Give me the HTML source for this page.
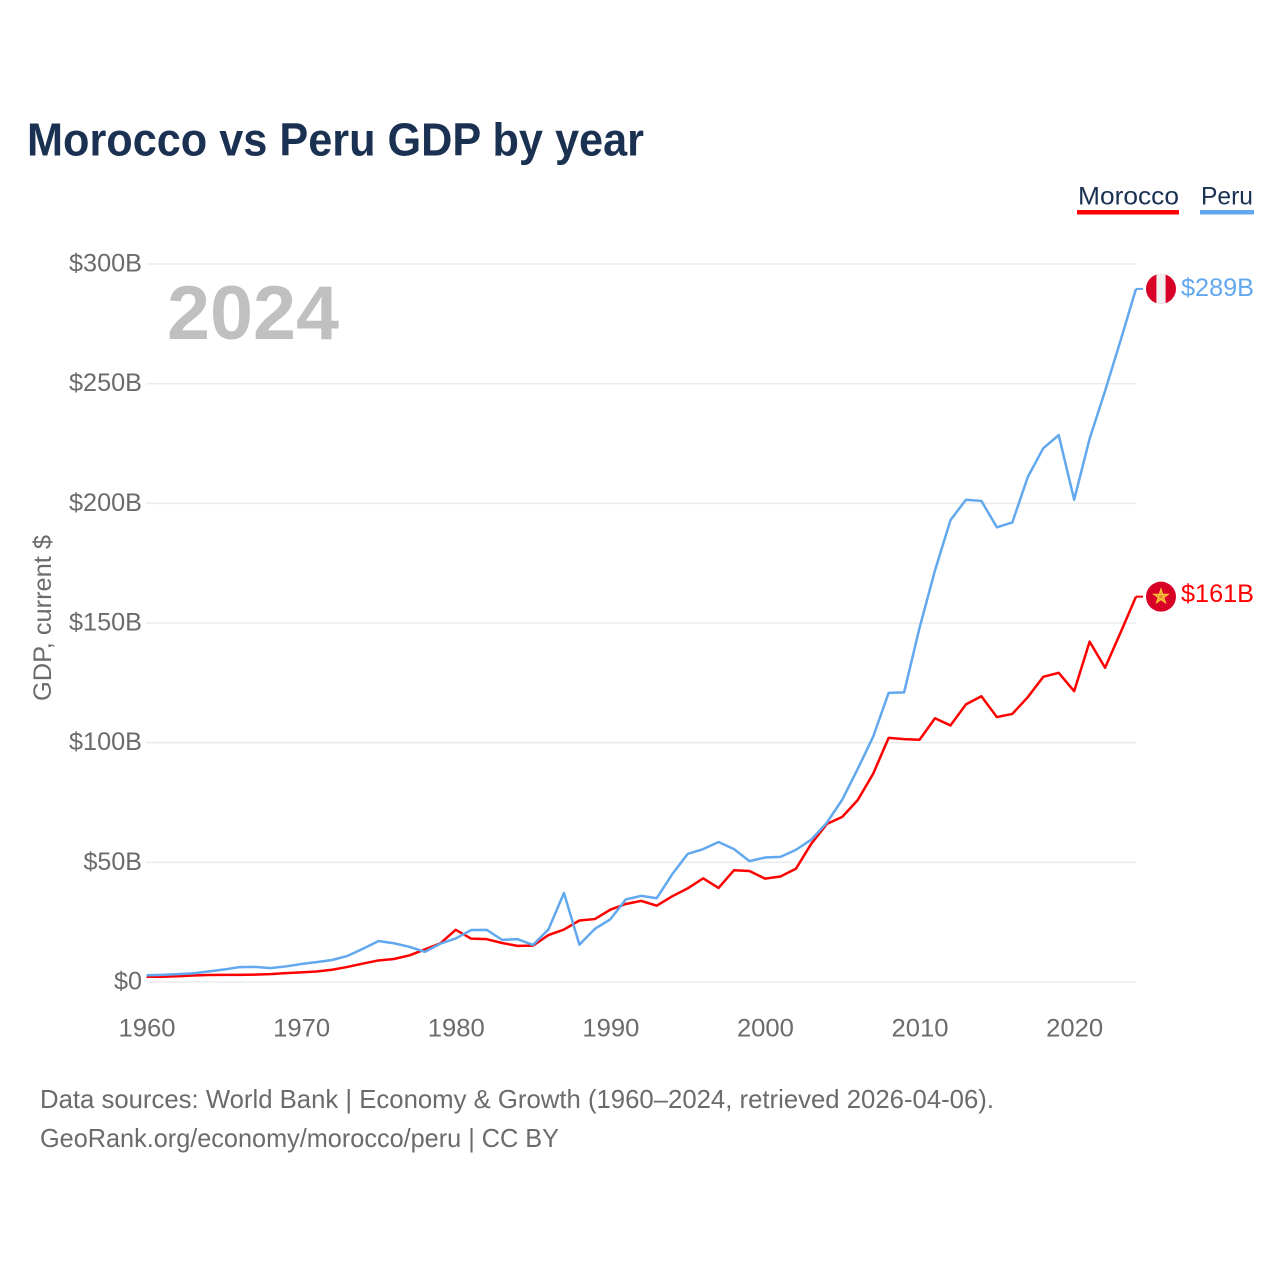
<!DOCTYPE html>
<html lang="en">
<head>
<meta charset="utf-8">
<title>Morocco vs Peru GDP by year</title>
<style>
  html, body { margin: 0; padding: 0; background: #fff; }
  svg { display: block; font-family: "Liberation Sans", sans-serif; }
</style>
</head>
<body>
<svg id="chart" xmlns="http://www.w3.org/2000/svg" width="1280" height="1280" viewBox="0 0 1280 1280">
  <rect x="0" y="0" width="1280" height="1280" fill="#ffffff"/>
  <text x="27" y="155.5" font-size="46" font-weight="bold" fill="#1a3152" textLength="617" lengthAdjust="spacingAndGlyphs">Morocco vs Peru GDP by year</text>

  <g>
    <text x="1078" y="204.5" font-size="25" fill="#1a3152" textLength="101" lengthAdjust="spacingAndGlyphs">Morocco</text>
    <rect x="1077" y="210" width="102" height="4.5" fill="#ff0000"/>
  </g>
  <g>
    <text x="1201" y="204.5" font-size="25" fill="#1a3152" textLength="52" lengthAdjust="spacingAndGlyphs">Peru</text>
    <rect x="1200" y="210" width="54" height="4.5" fill="#62a8ee"/>
  </g>

  <g id="grid"></g>
  <g id="y-ticks"></g>
  <g id="x-ticks"></g>

  <text transform="translate(51,701) rotate(-90)" font-size="25" fill="#6b6b6b" textLength="166" lengthAdjust="spacingAndGlyphs">GDP, current $</text>
  <text x="167" y="339" font-size="76" font-weight="bold" fill="#c0c0c0" textLength="172" lengthAdjust="spacingAndGlyphs">2024</text>

  <g id="series"></g>
  <g id="end-markers"></g>

  <text x="40" y="1108" font-size="26" fill="#6b6b6b" textLength="954" lengthAdjust="spacingAndGlyphs">Data sources: World Bank | Economy &amp; Growth (1960–2024, retrieved 2026-04-06).</text>
  <text x="40" y="1147" font-size="26" fill="#6b6b6b" textLength="519" lengthAdjust="spacingAndGlyphs">GeoRank.org/economy/morocco/peru | CC BY</text>
</svg>

<script>
const startYear = 1960;
const yTickValues = [0, 50, 100, 150, 200, 250, 300];
const yTickLabels = ["$0", "$50B", "$100B", "$150B", "$200B", "$250B", "$300B"];
const xTickValues = [1960, 1970, 1980, 1990, 2000, 2010, 2020];
const xTickLabels = ["1960", "1970", "1980", "1990", "2000", "2010", "2020"];
const moroccoValues = [
  2.2, 2.2, 2.4, 2.7, 2.9, 3.0, 3.0, 3.1, 3.3, 3.7,
  4.0, 4.4, 5.1, 6.3, 7.7, 9.0, 9.6, 11.1, 13.6, 16.1,
  21.8, 18.1, 17.9, 16.3, 15.1, 15.2, 19.6, 21.9, 25.7, 26.3,
  30.2, 32.6, 33.9, 31.9, 35.8, 39.1, 43.3, 39.3, 46.7, 46.4,
  43.2, 44.1, 47.3, 57.8, 66.0, 69.0, 76.0, 87.0, 102.0, 101.5,
  101.2, 110.2, 107.2, 116.0, 119.4, 110.7, 112.0, 119.0, 127.5, 129.2,
  121.5, 142.2, 131.3, 146.0, 161.0
];
const peruValues = [
  2.8, 3.0, 3.3, 3.6, 4.4, 5.2, 6.2, 6.3, 5.8, 6.5,
  7.5, 8.3, 9.2, 10.9, 13.9, 17.1, 16.2, 14.7, 12.6, 16.0,
  18.2, 21.7, 21.8, 17.6, 17.9, 15.5, 22.0, 37.2, 15.6, 22.2,
  26.2, 34.5, 36.0, 35.0, 45.0, 53.5, 55.5, 58.5, 55.5, 50.5,
  52.0, 52.3, 55.2, 59.5, 66.5, 76.2, 89.0, 102.5, 120.8, 121.0,
  148.0, 172.0, 193.0, 201.5, 201.0, 190.0, 192.0, 211.0, 223.0, 228.5,
  201.5, 227.0, 247.0, 268.0, 289.6
];
const moroccoEndLabel = "$161B";
const peruEndLabel = "$289B";

const SVG_NS = "http://www.w3.org/2000/svg";
const plotLeft = 146.5, plotRight = 1136, plotBottom = 982, plotTop = 264;
const endYear = startYear + moroccoValues.length - 1;

function xScale(year) {
  return plotLeft + (year - startYear) * (plotRight - plotLeft) / (endYear - startYear);
}
function yScale(value) {
  return plotBottom - value * (plotBottom - plotTop) / 300;
}
function make(tag, attrs) {
  const el = document.createElementNS(SVG_NS, tag);
  for (const k in attrs) el.setAttribute(k, attrs[k]);
  return el;
}
function linePoints(values) {
  return values.map(function (v, i) {
    return xScale(startYear + i).toFixed(2) + "," + yScale(v).toFixed(2);
  }).join(" ");
}

const gridGroup = document.getElementById("grid");
const yTickGroup = document.getElementById("y-ticks");
yTickValues.forEach(function (v, i) {
  const line = make("line", { x1: plotLeft, x2: plotRight, y1: yScale(v), y2: yScale(v), stroke: "#ececec", "stroke-width": 1.6 });
  
  
  gridGroup.appendChild(line);

  const label = yTickLabels[i];
  const width = label.length === 2 ? 28 : 14.5 * (label.length - 1) + 15;
  const t = make("text", { x: 142, y: yScale(v) + 7.5, "text-anchor": "end", "font-size": 25, fill: "#6b6b6b", textLength: width, lengthAdjust: "spacingAndGlyphs" });
  
  
  t.textContent = label;
  yTickGroup.appendChild(t);
});

const xTickGroup = document.getElementById("x-ticks");
xTickValues.forEach(function (year, i) {
  const t = make("text", { x: xScale(year) + 0.5, y: 1036.5, "text-anchor": "middle", "font-size": 25, fill: "#6b6b6b", textLength: 57, lengthAdjust: "spacingAndGlyphs" });
  
  
  t.textContent = xTickLabels[i];
  xTickGroup.appendChild(t);
});

const seriesGroup = document.getElementById("series");
const moroccoLine = make("polyline", { points: linePoints(moroccoValues), fill: "none", stroke: "#ff0000", "stroke-width": 2.5, "stroke-linejoin": "round" });


seriesGroup.appendChild(moroccoLine);

const peruLine = make("polyline", { points: linePoints(peruValues), fill: "none", stroke: "#62a8ee", "stroke-width": 2.5, "stroke-linejoin": "round" });


seriesGroup.appendChild(peruLine);

const markerGroup = document.getElementById("end-markers");
const flagX = 1161, flagR = 15;

const moroccoY = yScale(moroccoValues[moroccoValues.length - 1]);
const peruY = yScale(peruValues[peruValues.length - 1]);

const moroccoConnector = make("line", { x1: plotRight, x2: 1143, y1: moroccoY, y2: moroccoY, stroke: "#ff0000", "stroke-width": 2 });


markerGroup.appendChild(moroccoConnector);

const peruConnector = make("line", { x1: plotRight, x2: 1143, y1: peruY, y2: peruY, stroke: "#62a8ee", "stroke-width": 2 });


markerGroup.appendChild(peruConnector);

const peruFlag = make("g", {});


peruFlag.appendChild(make("circle", { cx: flagX, cy: peruY, r: flagR, fill: "#d80027" }));
peruFlag.appendChild(make("path", {
  d: "M" + (flagX - 4.6) + " " + (peruY - 14.3) + " A15 15 0 0 1 " + (flagX + 4.6) + " " + (peruY - 14.3) +
     " L" + (flagX + 4.6) + " " + (peruY + 14.3) + " A15 15 0 0 1 " + (flagX - 4.6) + " " + (peruY + 14.3) + " Z",
  fill: "#f0f0f0"
}));
markerGroup.appendChild(peruFlag);

const moroccoFlag = make("g", {});


moroccoFlag.appendChild(make("circle", { cx: flagX, cy: moroccoY, r: flagR, fill: "#d80027" }));
const starPts = [];
for (let k = 0; k < 5; k++) {
  const a = -Math.PI / 2 + k * 2 * (2 * Math.PI / 5);
  starPts.push((flagX + 7.5 * Math.cos(a)).toFixed(2) + "," + (moroccoY + 7.5 * Math.sin(a)).toFixed(2));
}
moroccoFlag.appendChild(make("polygon", { points: starPts.join(" "), fill: "#e8a030", "fill-rule": "nonzero", stroke: "#ffc53a", "stroke-width": 1.2, "fill-opacity": 0.85 }));
markerGroup.appendChild(moroccoFlag);

const peruText = make("text", { x: 1181, y: peruY + 7, "font-size": 25, fill: "#62a8ee", textLength: 73, lengthAdjust: "spacingAndGlyphs" });


peruText.textContent = peruEndLabel;
markerGroup.appendChild(peruText);

const moroccoText = make("text", { x: 1181, y: moroccoY + 5.5, "font-size": 25, fill: "#ff0000", textLength: 73, lengthAdjust: "spacingAndGlyphs" });


moroccoText.textContent = moroccoEndLabel;
markerGroup.appendChild(moroccoText);
</script>
</body>
</html>
